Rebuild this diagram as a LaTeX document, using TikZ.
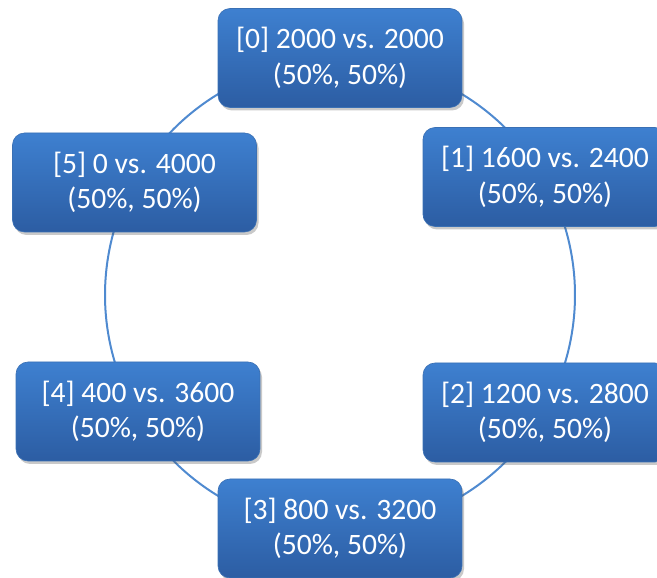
\documentclass[tikz,border=0pt]{standalone}
\usepackage{fontspec}
\setmainfont{Carlito}
\usetikzlibrary{shadows}
\definecolor{boxtop}{RGB}{62,128,208}
\definecolor{boxbot}{RGB}{44,93,163}
\definecolor{boxedge}{RGB}{58,112,180}
\definecolor{linecol}{RGB}{79,138,208}
\tikzset{
  cyclebox/.style={rectangle, rounded corners=12pt, minimum width=244pt, minimum height=99pt,
    top color=boxtop, bottom color=boxbot, draw=boxedge, line width=0.6pt,
    text=white, align=center, inner sep=0pt,
    font=\fontsize{29.6}{35.5}\selectfont,
    drop shadow={shadow xshift=2pt, shadow yshift=-3pt, opacity=0.3, fill=black!70}},
  conn/.style={draw=linecol, line width=2pt}
}
\begin{document}
\begin{tikzpicture}[x=1pt,y=1pt]
\useasboundingbox (0,0) rectangle (657,578);
\coordinate (O) at (340,283);
% connectors: arcs of the cycle circle between successive boxes
\foreach \a/\b in {90/30, 30/-30, -30/-90, -90/-150, -150/-210, -210/-270}
  \draw[conn] ([shift={(\a:235)}]O) arc[start angle=\a, end angle=\b, radius=235];
\node[cyclebox] (n0) at (340,520) {[0] 2000 vs. 2000\\(50\%, 50\%)};
\node[cyclebox] (n1) at (545,401) {[1] 1600 vs. 2400\\(50\%, 50\%)};
\node[cyclebox] (n2) at (545,165.5) {[2] 1200 vs. 2800\\(50\%, 50\%)};
\node[cyclebox] (n3) at (340,49.5) {[3] 800 vs. 3200\\(50\%, 50\%)};
\node[cyclebox] (n4) at (138,166.5) {[4] 400 vs. 3600\\(50\%, 50\%)};
\node[cyclebox] (n5) at (134.5,395.5) {[5] 0 vs. 4000\\(50\%, 50\%)};
\end{tikzpicture}
\end{document}
